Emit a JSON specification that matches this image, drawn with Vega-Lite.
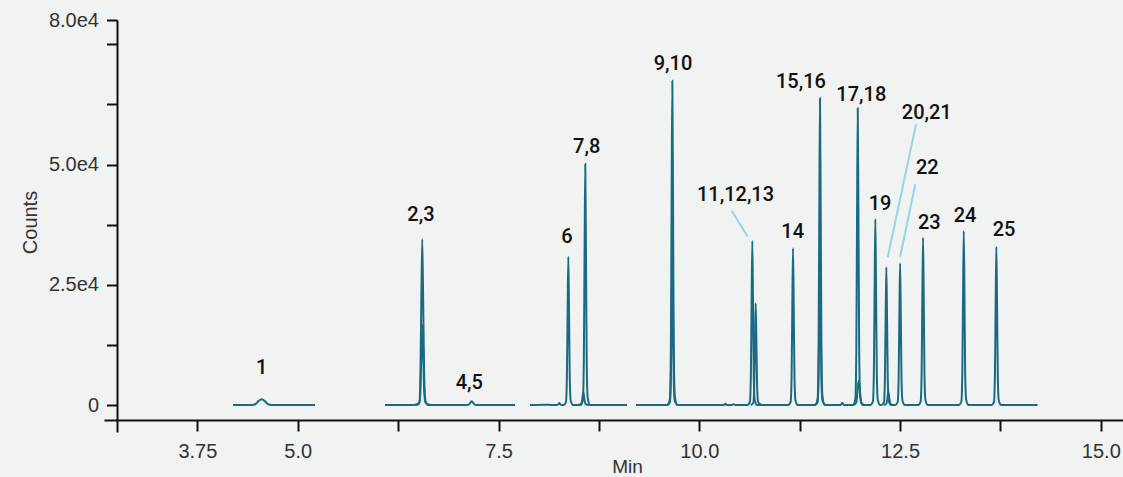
{
  "$schema": "https://vega.github.io/schema/vega-lite/v6.json",
  "autosize": {"type": "none"},
  "padding": {"left": 104, "top": 20, "right": 0, "bottom": 45},
  "width": 1019,
  "height": 412,
  "background": "#f1f2f2",
  "config": {"view": {"stroke": null}},
  "datasets": {
    "trace": [
      {"s": "a1", "t": 4.194, "c": 0}, {"s": "a1", "t": 4.43, "c": 0}, {"s": "a1", "t": 4.47, "c": 150}, {"s": "a1", "t": 4.51, "c": 800}, {"s": "a1", "t": 4.551, "c": 1200}, {"s": "a1", "t": 4.59, "c": 800}, {"s": "a1", "t": 4.63, "c": 150}, {"s": "a1", "t": 4.675, "c": 0}, {"s": "a1", "t": 5.215, "c": 0},

      {"s": "a2", "t": 6.086, "c": 0}, {"s": "a2", "t": 6.48, "c": 0}, {"s": "a2", "t": 6.515, "c": 700}, {"s": "a2", "t": 6.527, "c": 6200}, {"s": "a2", "t": 6.538, "c": 21000}, {"s": "a2", "t": 6.55, "c": 34450}, {"s": "a2", "t": 6.562, "c": 21000}, {"s": "a2", "t": 6.574, "c": 6200}, {"s": "a2", "t": 6.59, "c": 900}, {"s": "a2", "t": 6.62, "c": 0},
      {"s": "a2", "t": 7.11, "c": 0}, {"s": "a2", "t": 7.135, "c": 150}, {"s": "a2", "t": 7.152, "c": 550}, {"s": "a2", "t": 7.166, "c": 770}, {"s": "a2", "t": 7.18, "c": 550}, {"s": "a2", "t": 7.197, "c": 150}, {"s": "a2", "t": 7.22, "c": 0}, {"s": "a2", "t": 7.706, "c": 0},

      {"s": "a3", "t": 7.892, "c": 0}, {"s": "a3", "t": 8.1, "c": 60}, {"s": "a3", "t": 8.15, "c": 0}, {"s": "a3", "t": 8.22, "c": 0}, {"s": "a3", "t": 8.245, "c": 150}, {"s": "a3", "t": 8.256, "c": 400}, {"s": "a3", "t": 8.267, "c": 150}, {"s": "a3", "t": 8.29, "c": 0},
      {"s": "a3", "t": 8.31, "c": 0}, {"s": "a3", "t": 8.339, "c": 600}, {"s": "a3", "t": 8.351, "c": 5550}, {"s": "a3", "t": 8.36, "c": 19100}, {"s": "a3", "t": 8.369, "c": 30830}, {"s": "a3", "t": 8.378, "c": 19100}, {"s": "a3", "t": 8.387, "c": 5550}, {"s": "a3", "t": 8.399, "c": 900}, {"s": "a3", "t": 8.429, "c": 0},
      {"s": "a3", "t": 8.52, "c": 0}, {"s": "a3", "t": 8.55, "c": 1000}, {"s": "a3", "t": 8.562, "c": 9000}, {"s": "a3", "t": 8.571, "c": 31000}, {"s": "a3", "t": 8.58, "c": 50100}, {"s": "a3", "t": 8.589, "c": 31000}, {"s": "a3", "t": 8.598, "c": 9000}, {"s": "a3", "t": 8.61, "c": 1500}, {"s": "a3", "t": 8.64, "c": 0}, {"s": "a3", "t": 9.1, "c": 0},

      {"s": "a4", "t": 9.212, "c": 0},
      {"s": "a4", "t": 9.604, "c": 0}, {"s": "a4", "t": 9.634, "c": 1300}, {"s": "a4", "t": 9.646, "c": 12100}, {"s": "a4", "t": 9.655, "c": 41800}, {"s": "a4", "t": 9.664, "c": 67420}, {"s": "a4", "t": 9.673, "c": 41800}, {"s": "a4", "t": 9.682, "c": 12100}, {"s": "a4", "t": 9.694, "c": 2000}, {"s": "a4", "t": 9.724, "c": 0},
      {"s": "a4", "t": 10.3, "c": 0}, {"s": "a4", "t": 10.325, "c": 250}, {"s": "a4", "t": 10.34, "c": 0}, {"s": "a4", "t": 10.4, "c": 0}, {"s": "a4", "t": 10.43, "c": 180}, {"s": "a4", "t": 10.45, "c": 0},
      {"s": "a4", "t": 10.6, "c": 0}, {"s": "a4", "t": 10.63, "c": 700}, {"s": "a4", "t": 10.642, "c": 6100}, {"s": "a4", "t": 10.651, "c": 21100}, {"s": "a4", "t": 10.66, "c": 34100}, {"s": "a4", "t": 10.669, "c": 21100}, {"s": "a4", "t": 10.678, "c": 6100}, {"s": "a4", "t": 10.69, "c": 1000}, {"s": "a4", "t": 10.72, "c": 0},
      {"s": "a4", "t": 11.107, "c": 0}, {"s": "a4", "t": 11.137, "c": 650}, {"s": "a4", "t": 11.149, "c": 5860}, {"s": "a4", "t": 11.158, "c": 20200}, {"s": "a4", "t": 11.167, "c": 32580}, {"s": "a4", "t": 11.176, "c": 20200}, {"s": "a4", "t": 11.185, "c": 5860}, {"s": "a4", "t": 11.197, "c": 1000}, {"s": "a4", "t": 11.227, "c": 0},
      {"s": "a4", "t": 11.443, "c": 0}, {"s": "a4", "t": 11.473, "c": 1300}, {"s": "a4", "t": 11.485, "c": 11500}, {"s": "a4", "t": 11.494, "c": 39500}, {"s": "a4", "t": 11.503, "c": 63760}, {"s": "a4", "t": 11.512, "c": 39500}, {"s": "a4", "t": 11.521, "c": 11500}, {"s": "a4", "t": 11.533, "c": 1900}, {"s": "a4", "t": 11.563, "c": 0},
      {"s": "a4", "t": 11.76, "c": 0}, {"s": "a4", "t": 11.78, "c": 450}, {"s": "a4", "t": 11.8, "c": 0},
      {"s": "a4", "t": 11.913, "c": 0}, {"s": "a4", "t": 11.943, "c": 1200}, {"s": "a4", "t": 11.955, "c": 11100}, {"s": "a4", "t": 11.964, "c": 38200}, {"s": "a4", "t": 11.973, "c": 61680}, {"s": "a4", "t": 11.982, "c": 38200}, {"s": "a4", "t": 11.991, "c": 11100}, {"s": "a4", "t": 12.003, "c": 1850}, {"s": "a4", "t": 12.033, "c": 0},
      {"s": "a4", "t": 12.132, "c": 0}, {"s": "a4", "t": 12.162, "c": 770}, {"s": "a4", "t": 12.174, "c": 6960}, {"s": "a4", "t": 12.183, "c": 23970}, {"s": "a4", "t": 12.192, "c": 38670}, {"s": "a4", "t": 12.201, "c": 23970}, {"s": "a4", "t": 12.21, "c": 6960}, {"s": "a4", "t": 12.222, "c": 1160}, {"s": "a4", "t": 12.252, "c": 0},
      {"s": "a4", "t": 12.269, "c": 0}, {"s": "a4", "t": 12.299, "c": 570}, {"s": "a4", "t": 12.311, "c": 5150}, {"s": "a4", "t": 12.32, "c": 17750}, {"s": "a4", "t": 12.329, "c": 28630}, {"s": "a4", "t": 12.338, "c": 17750}, {"s": "a4", "t": 12.347, "c": 5150}, {"s": "a4", "t": 12.359, "c": 860}, {"s": "a4", "t": 12.389, "c": 0},
      {"s": "a4", "t": 12.44, "c": 0}, {"s": "a4", "t": 12.47, "c": 590}, {"s": "a4", "t": 12.482, "c": 5300}, {"s": "a4", "t": 12.491, "c": 18270}, {"s": "a4", "t": 12.5, "c": 29460}, {"s": "a4", "t": 12.509, "c": 18270}, {"s": "a4", "t": 12.518, "c": 5300}, {"s": "a4", "t": 12.53, "c": 880}, {"s": "a4", "t": 12.56, "c": 0},
      {"s": "a4", "t": 12.726, "c": 0}, {"s": "a4", "t": 12.756, "c": 700}, {"s": "a4", "t": 12.768, "c": 6260}, {"s": "a4", "t": 12.777, "c": 21560}, {"s": "a4", "t": 12.786, "c": 34780}, {"s": "a4", "t": 12.795, "c": 21560}, {"s": "a4", "t": 12.804, "c": 6260}, {"s": "a4", "t": 12.816, "c": 1040}, {"s": "a4", "t": 12.846, "c": 0},
      {"s": "a4", "t": 13.233, "c": 0}, {"s": "a4", "t": 13.263, "c": 720}, {"s": "a4", "t": 13.275, "c": 6510}, {"s": "a4", "t": 13.284, "c": 22430}, {"s": "a4", "t": 13.293, "c": 36180}, {"s": "a4", "t": 13.302, "c": 22430}, {"s": "a4", "t": 13.311, "c": 6510}, {"s": "a4", "t": 13.323, "c": 1090}, {"s": "a4", "t": 13.353, "c": 0},
      {"s": "a4", "t": 13.639, "c": 0}, {"s": "a4", "t": 13.669, "c": 660}, {"s": "a4", "t": 13.681, "c": 5920}, {"s": "a4", "t": 13.69, "c": 20400}, {"s": "a4", "t": 13.699, "c": 32910}, {"s": "a4", "t": 13.708, "c": 20400}, {"s": "a4", "t": 13.717, "c": 5920}, {"s": "a4", "t": 13.729, "c": 990}, {"s": "a4", "t": 13.759, "c": 0},
      {"s": "a4", "t": 14.212, "c": 0},

      {"s": "b1", "t": 6.45, "c": 0}, {"s": "b1", "t": 6.515, "c": 330}, {"s": "b1", "t": 6.527, "c": 3000}, {"s": "b1", "t": 6.538, "c": 10300}, {"s": "b1", "t": 6.55, "c": 16570}, {"s": "b1", "t": 6.562, "c": 10300}, {"s": "b1", "t": 6.574, "c": 3000}, {"s": "b1", "t": 6.59, "c": 500}, {"s": "b1", "t": 6.65, "c": 0},
      {"s": "b2", "t": 8.48, "c": 0}, {"s": "b2", "t": 8.52, "c": 100}, {"s": "b2", "t": 8.54, "c": 900}, {"s": "b2", "t": 8.556, "c": 2640}, {"s": "b2", "t": 8.572, "c": 900}, {"s": "b2", "t": 8.59, "c": 100}, {"s": "b2", "t": 8.63, "c": 0},
      {"s": "b3", "t": 9.6, "c": 0}, {"s": "b3", "t": 9.634, "c": 580}, {"s": "b3", "t": 9.646, "c": 5200}, {"s": "b3", "t": 9.655, "c": 17800}, {"s": "b3", "t": 9.664, "c": 28750}, {"s": "b3", "t": 9.673, "c": 17800}, {"s": "b3", "t": 9.682, "c": 5200}, {"s": "b3", "t": 9.694, "c": 860}, {"s": "b3", "t": 9.73, "c": 0},
      {"s": "b4", "t": 10.64, "c": 0}, {"s": "b4", "t": 10.672, "c": 420}, {"s": "b4", "t": 10.684, "c": 3800}, {"s": "b4", "t": 10.693, "c": 13100}, {"s": "b4", "t": 10.702, "c": 21140}, {"s": "b4", "t": 10.711, "c": 13100}, {"s": "b4", "t": 10.72, "c": 3800}, {"s": "b4", "t": 10.732, "c": 630}, {"s": "b4", "t": 10.77, "c": 0},
      {"s": "b5", "t": 11.44, "c": 0}, {"s": "b5", "t": 11.473, "c": 590}, {"s": "b5", "t": 11.485, "c": 5300}, {"s": "b5", "t": 11.494, "c": 18300}, {"s": "b5", "t": 11.503, "c": 29460}, {"s": "b5", "t": 11.512, "c": 18300}, {"s": "b5", "t": 11.521, "c": 5300}, {"s": "b5", "t": 11.533, "c": 880}, {"s": "b5", "t": 11.57, "c": 0},
      {"s": "b6", "t": 11.92, "c": 0}, {"s": "b6", "t": 11.955, "c": 500}, {"s": "b6", "t": 11.97, "c": 3000}, {"s": "b6", "t": 11.985, "c": 5050}, {"s": "b6", "t": 12.0, "c": 3000}, {"s": "b6", "t": 12.015, "c": 500}, {"s": "b6", "t": 12.05, "c": 0},
      {"s": "b7", "t": 12.3, "c": 0}, {"s": "b7", "t": 12.33, "c": 300}, {"s": "b7", "t": 12.343, "c": 1500}, {"s": "b7", "t": 12.354, "c": 2770}, {"s": "b7", "t": 12.365, "c": 1500}, {"s": "b7", "t": 12.378, "c": 300}, {"s": "b7", "t": 12.41, "c": 0}
    ],
    "labels": [
      {"label": "1", "t": 4.55, "c": 7630},
      {"label": "2,3", "t": 6.534, "c": 39500},
      {"label": "4,5", "t": 7.136, "c": 4640},
      {"label": "6", "t": 8.352, "c": 34870},
      {"label": "7,8", "t": 8.598, "c": 53700},
      {"label": "9,10", "t": 9.672, "c": 70830},
      {"label": "11,12,13", "t": 10.451, "c": 43660},
      {"label": "14", "t": 11.163, "c": 35900},
      {"label": "15,16", "t": 11.266, "c": 67210},
      {"label": "17,18", "t": 12.017, "c": 64450},
      {"label": "19", "t": 12.25, "c": 41790},
      {"label": "20,21", "t": 12.832, "c": 60770},
      {"label": "22", "t": 12.839, "c": 49210},
      {"label": "23", "t": 12.864, "c": 37780},
      {"label": "24", "t": 13.309, "c": 39360},
      {"label": "25", "t": 13.794, "c": 36380}
    ],
    "leaders": [
      {"t1": 10.403, "c1": 40395, "t2": 10.603, "c2": 34990},
      {"t1": 12.699, "c1": 58360, "t2": 12.346, "c2": 30710},
      {"t1": 12.69, "c1": 45880, "t2": 12.499, "c2": 30710}
    ]
  },
  "layer": [
    {
      "data": {"name": "leaders"},
      "mark": {"type": "rule", "color": "#98d6df", "strokeWidth": 2},
      "encoding": {
        "x": {"field": "t1", "type": "quantitative", "scale": {"domain": [2.587, 15.276], "nice": false, "zero": false},
          "axis": {
            "values": [3.75, 5, 6.25, 7.5, 8.75, 10, 11.25, 12.5, 13.75, 15],
            "labelExpr": "datum.value == 3.75 ? '3.75' : (datum.value % 2.5 == 0 ? format(datum.value, '.1f') : '')",
            "offset": -12, "tickSize": 11, "tickWidth": 2, "domainWidth": 2,
            "domainColor": "#111", "tickColor": "#111", "grid": false,
            "labelFont": "Liberation Sans", "labelFontSize": 20, "labelColor": "#333", "labelPadding": 10,
            "labelFlush": false, "labelOverlap": false,
            "title": "Min", "titleFont": "Liberation Sans", "titleFontSize": 19, "titleFontWeight": "normal", "titleColor": "#333",
            "titleX": 523, "titleY": 52, "titleBaseline": "alphabetic", "titleAlign": "center"
          }},
        "x2": {"field": "t2"},
        "y": {"field": "c1", "type": "quantitative", "scale": {"domain": [-5613, 80042], "nice": false, "zero": false},
          "axis": {
            "values": [0, 12500, 25000, 37500, 50000, 62500, 75000, 80000],
            "labelExpr": "datum.value == 0 ? '0' : datum.value == 25000 ? '2.5e4' : datum.value == 50000 ? '5.0e4' : datum.value == 80000 ? '8.0e4' : ''",
            "offset": -13, "tickSize": 10.5, "tickWidth": 2, "domainWidth": 2,
            "domainColor": "#111", "tickColor": "#111", "grid": false,
            "labelFont": "Liberation Sans", "labelFontSize": 20, "labelColor": "#333", "labelPadding": 8,
            "labelFlush": false, "labelOverlap": false,
            "title": "Counts", "titleFont": "Liberation Sans", "titleFontSize": 20, "titleFontWeight": "normal", "titleColor": "#333",
            "titleX": -87, "titleY": 202, "titleAngle": -90, "titleBaseline": "middle", "titleAlign": "center"
          }},
        "y2": {"field": "c2"}
      }
    },
    {
      "data": {"name": "trace"},
      "mark": {"type": "line", "color": "#1b6983", "strokeWidth": 2, "interpolate": "monotone"},
      "encoding": {
        "x": {"field": "t", "type": "quantitative"},
        "y": {"field": "c", "type": "quantitative"},
        "detail": {"field": "s", "type": "nominal"}
      }
    },
    {
      "data": {"name": "labels"},
      "mark": {"type": "text", "font": "Roboto", "fontWeight": 500, "fontSize": 20, "color": "#111", "align": "center", "baseline": "middle"},
      "encoding": {
        "x": {"field": "t", "type": "quantitative"},
        "y": {"field": "c", "type": "quantitative"},
        "text": {"field": "label", "type": "nominal"}
      }
    }
  ]
}
